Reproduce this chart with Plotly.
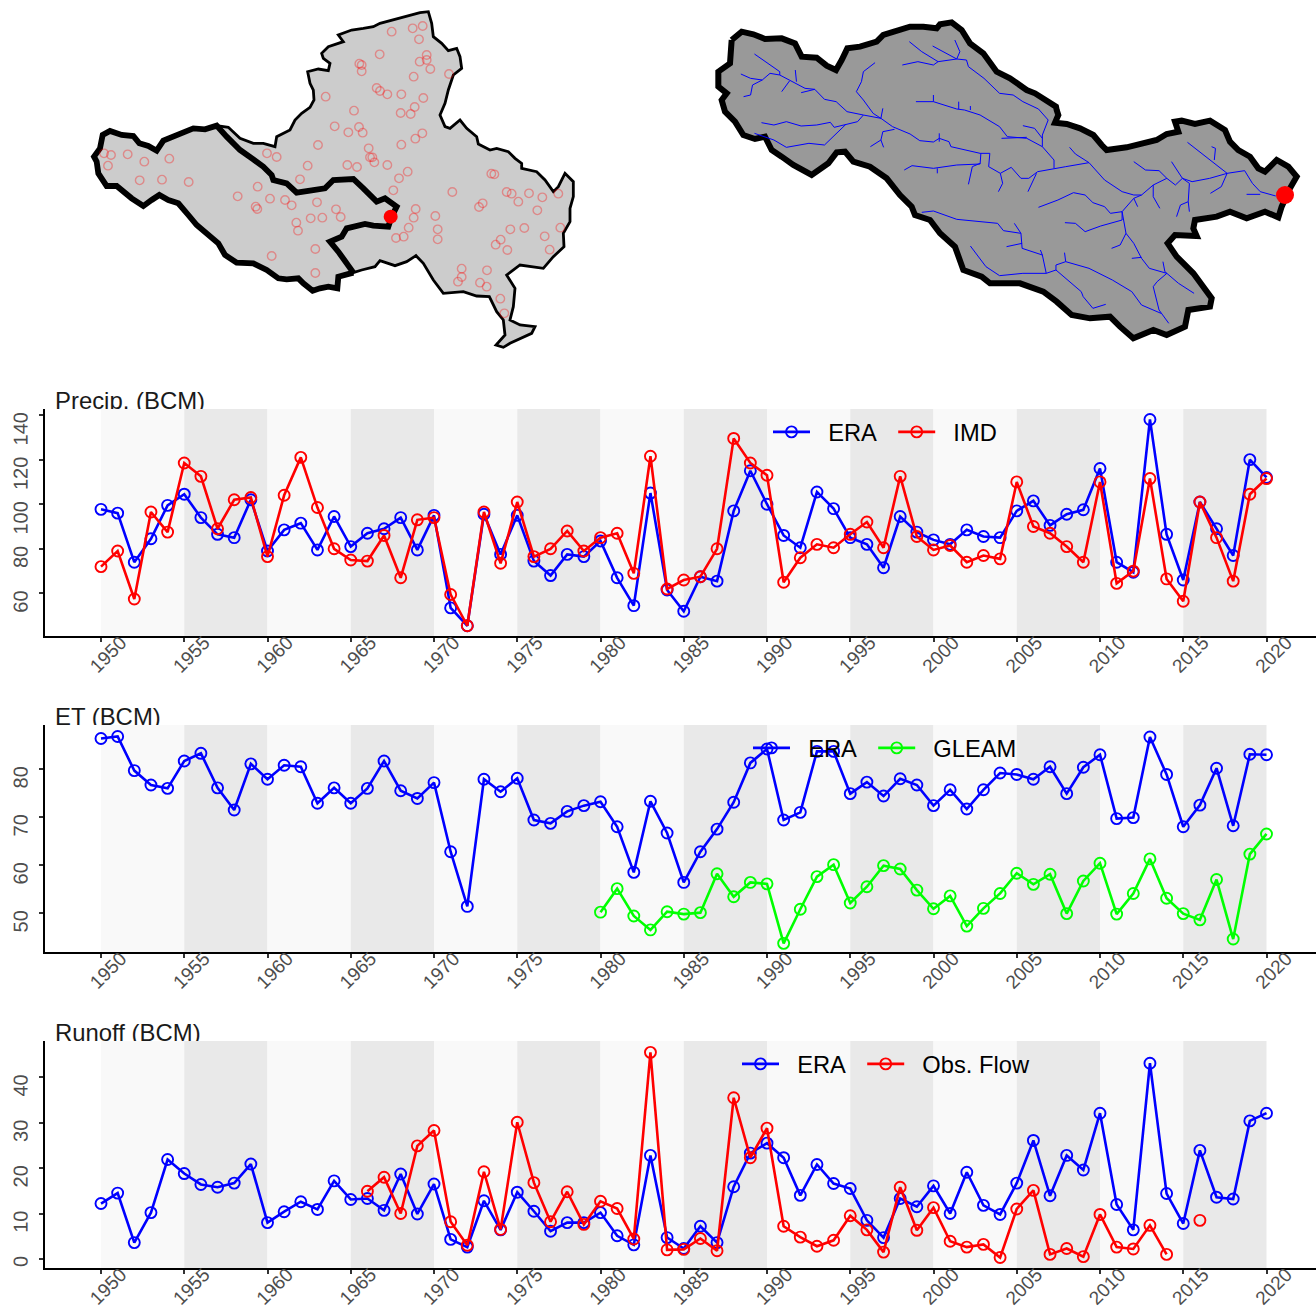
import plotly.graph_objects as go

W, H = 1316, 1309
years = list(range(1950, 2021))
n = None

precip_era = [97.7,96,74,84.5,99.5,104.5,94,86.5,85,102,79,88.5,91.5,79.5,94.5,81,87,89,94,79.5,95,53.5,45.5,95.5,77.5,95,74.5,68,77.5,76.5,83.5,67,54.5,105,61.5,52,67.5,65.5,97,115,100,86,80.5,105.5,98,85,82,71.5,94.5,87.5,84,82,88.5,85.5,85,97,101.5,90.5,95.5,97.5,116,74,69.5,138,86.5,66,101,89,77,120,112]
precip_imd = [72,79,57.5,96.5,87.5,118.5,112.5,89,102,103,76.5,104,121,98.5,80,75,74.5,86,67,93,94,59.5,45.5,96.5,73.5,101,76.5,80,88,79,85,87,69,121.5,62,66,67.5,80,129.5,118.5,113,65,76,82,80.5,86.5,92,80.5,112.5,85.5,79.5,81.5,74,77,75.5,110,90,87,81,74,110,64.5,70,111.5,66.5,56.5,101,85,65.5,104.5,111.5]
et_era = [86.4,86.8,79.7,76.7,76,81.7,83.3,76.1,71.5,81.1,77.9,80.8,80.5,72.9,76.1,72.9,76,81.7,75.5,73.9,77.2,62.8,51.4,77.9,75.3,78.1,69.4,68.7,71.2,72.4,73.2,68,58.5,73.3,66.7,56.4,62.8,67.5,73.1,81.3,84.2,69.4,71,83.7,83.7,74.9,77.3,74.4,78,76.7,72.4,75.7,71.7,75.7,79.2,78.9,77.9,80.5,74.9,80.4,83,69.7,69.9,86.7,78.9,68,72.5,80.2,68.2,83.1,83]
et_gleam = [n]*30 + [50.2,55.1,49.4,46.5,50.3,49.8,50.1,58.2,53.4,56.4,56.1,43.7,50.8,57.6,60.1,52.1,55.5,59.9,59.2,54.8,50.9,53.6,47.3,51,54.1,58.3,56,58.1,49.9,56.7,60.4,49.8,54.1,61.3,53.1,49.9,48.6,57,44.6,62.3,66.5]
runoff_era = [12.2,14.5,3.6,10.2,21.9,18.8,16.4,15.8,16.7,20.9,8,10.4,12.6,10.9,17.2,13.1,13.3,10.7,18.7,9.9,16.5,4.3,2.6,12.8,6.4,14.7,10.5,6.1,8,8,10.2,5.1,3.1,22.8,4.7,2.3,7.2,3.6,15.9,23.3,25.5,22.3,14,20.8,16.6,15.5,8.5,4.7,13.3,11.5,16.1,10,19.1,11.8,9.8,16.7,26.1,13.9,22.8,19.6,32.1,12,6.4,43.1,14.4,7.8,23.9,13.6,13.2,30.4,32.1]
runoff_obs = [n]*16 + [14.9,18,10,24.9,28.3,8.2,3,19.2,6.5,30.1,16.8,8.2,14.8,7.6,12.7,11.1,4.4,45.5,2,2.1,4.5,1.8,35.5,22.3,28.8,7.2,4.8,2.8,4.1,9.5,6.4,1.5,15.8,6.3,11.3,3.9,2.6,3.2,0.3,11,15.1,1,2.3,0.5,9.8,2.6,2.2,7.4,1,n,8.5,n,n,n,n]

band_starts = list(range(1950, 2020, 5))
band_colors = ["#f9f9f9", "#e9e9e9"]
panel_titles = ["Precip. (BCM)", "ET (BCM)", "Runoff (BCM)"]

basin_thin = [(410,377),(445,382),(480,415),(520,430),(550,430),(585,440),(590,410),(630,390),(645,360),(665,340),(690,322),(702,300),(700,270),(690,250),(683,215),(715,207),(745,212),(750,190),(730,175),(725,160),(745,140),(775,130),(790,125),(775,105),(815,90),(850,85),(880,80),(900,70),(940,60),(980,50),(1020,38),(1045,35),(1055,70),(1060,110),(1085,130),(1105,152),(1130,145),(1140,170),(1145,205),(1120,225),(1105,270),(1095,310),(1080,345),(1095,380),(1110,385),(1140,360),(1160,385),(1190,410),(1195,432),(1230,450),(1250,445),(1285,455),(1305,475),(1325,490),(1325,505),(1370,515),(1395,540),(1420,575),(1435,560),(1455,520),(1480,545),(1480,590),(1470,625),(1470,665),(1450,700),(1452,740),(1420,770),(1390,805),(1350,800),(1320,795),(1280,825),(1305,865),(1300,920),(1290,960),(1320,975),(1365,980),(1355,1000),(1290,1030),(1270,1042),(1248,1035),(1275,1005),(1270,960),(1250,935),(1228,890),(1190,888),(1150,875),(1090,880),(1060,840),(1030,790),(1008,767),(980,785),(945,797),(900,782),(885,800),(845,810),(820,818)]
basin_thick_outer = [(820,818),(775,830),(772,865),(745,860),(720,865),(698,872),(670,850),(655,835),(620,838),(595,835),(560,810),(520,790),(470,788),(435,765),(415,730),(380,700),(350,675),(325,645),(295,610),(265,600),(238,585),(215,600),(190,618),(155,595),(130,575),(110,558),(80,558),(55,520),(50,485),(42,470),(60,445),(68,405),(90,393),(125,405),(160,408),(178,430),(205,438),(230,452),(250,422),(295,405),(340,385),(375,388),(410,377)]
basin_thick_inner = [(410,377),(440,410),(480,450),(520,478),(550,500),(575,525),(580,540),(620,550),(650,578),(690,572),(735,565),(760,540),(820,537),(850,565),(890,605),(915,595),(950,620),(935,650),(925,680),(880,677),(855,672),(800,685),(785,710),(750,725),(775,755),(820,818)]
outlet_left = (932, 650)
stations = [(935,95),(998,85),(1028,78),(1017,118),(899,163),(1040,165),(1040,180),(1019,185),(838,191),(845,195),(845,214),(1051,207),(1107,222),(1001,230),(890,264),(900,273),(922,283),(964,283),(737,290),(1030,294),(1004,321),(822,332),(962,339),(992,342),(764,379),(837,381),(805,397),(848,398),(1027,400),(1006,416),(964,434),(714,435),(866,445),(561,460),(590,471),(870,472),(877,472),(883,487),(683,497),(802,495),(831,501),(922,495),(72,460),(93,465),(143,463),(193,485),(268,476),(84,497),(179,541),(246,539),(326,546),(660,538),(533,560),(983,515),(957,535),(940,571),(1117,576),(1234,521),(1243,523),(1280,576),(1295,581),(1347,580),(1387,592),(1435,581),(1315,605),(473,589),(570,596),(615,600),(635,616),(711,607),(527,620),(532,627),(768,628),(782,651),(727,653),(692,655),(649,668),(654,692),(1007,627),(1001,653),(1066,648),(1197,621),(1208,610),(1372,631),(986,683),(1073,688),(1291,688),(1333,684),(1441,683),(948,714),(971,710),(1073,718),(1394,709),(1262,719),(1247,734),(1282,750),(1409,749),(706,747),(575,768),(706,819),(1145,806),(1221,811),(1145,831),(1134,845),(1200,848),(1220,860),(1261,896),(1273,940)]

river_basin = [(95,90),(125,65),(160,73),(195,87),(245,85),(285,100),(305,140),(350,143),(380,167),(408,180),(425,150),(442,115),(480,110),(530,95),(550,75),(590,63),(630,50),(670,50),(710,55),(720,43),(755,37),(785,60),(810,100),(850,130),(890,185),(930,205),(980,240),(1005,250),(1040,270),(1068,290),(1070,300),(1075,315),(1065,338),(1100,342),(1140,355),(1180,375),(1205,405),(1220,420),(1280,412),(1330,400),(1370,390),(1400,372),(1435,365),(1425,335),(1445,332),(1485,342),(1530,332),(1575,360),(1590,395),(1615,420),(1650,440),(1675,475),(1695,485),(1730,450),(1765,470),(1790,500),(1770,535),(1745,590),(1735,622),(1695,605),(1640,625),(1590,605),(1550,620),(1485,630),(1480,655),(1490,678),(1425,675),(1403,700),(1430,740),(1480,790),(1535,865),(1530,890),(1465,900),(1455,950),(1400,975),(1360,960),(1300,985),(1260,950),(1230,920),(1170,925),(1115,915),(1070,875),(1030,845),(960,820),(870,820),(845,800),(790,780),(765,710),(720,670),(690,630),(645,615),(635,590),(600,555),(560,505),(510,470),(460,455),(435,425),(410,427),(385,460),(335,495),(280,465),(245,440),(215,420),(195,380),(165,387),(130,375),(105,335),(75,305),(65,270),(80,250),(55,230),(55,185),(90,160),(95,90)]
rivers = [
 [(140,132),(205,185),(205,195),(235,213),(270,235),(295,238),(320,268),(350,275),(378,305),(420,315),(465,325),(495,350),(525,365),(540,372),(565,392),(600,396),(615,385),(640,395),(645,410),(680,420),(720,430),(745,430),(742,470),(772,490),(800,472),(825,505),(845,505),(868,485),(910,475),(940,470),(1000,458),(1040,510),(1085,545),(1115,555),(1135,555),(1165,525),(1200,505),(1222,525),(1240,505),(1265,515),(1310,505),(1355,490),(1400,482),(1420,520),(1440,545),(1480,558)],
 [(105,192),(130,205),(160,210),(180,190),(205,195)],
 [(160,210),(135,225),(130,255),(112,260)],
 [(245,180),(248,215)],
 [(230,213),(210,245)],
 [(260,248),(295,238)],
 [(450,158),(420,185),(415,215),(402,245),(420,270),(445,310),(465,325),(470,295)],
 [(158,338),(190,345),(222,335),(260,348),(300,345),(335,337),(345,352),(375,343),(405,335),(420,315)],
 [(140,370),(190,390),(222,412),(280,400),(320,405),(375,343)],
 [(500,358),(470,365),(465,390),(438,410)],
 [(465,390),(472,412)],
 [(538,95),(570,125),(612,155),(600,165),(560,155),(520,165)],
 [(612,155),(660,147),(685,150),(690,170),(730,205),(770,250),(805,255),(830,275),(870,297),(895,330),(880,375),(880,410),(910,450),(910,475)],
 [(598,108),(660,147),(668,125),(655,90)],
 [(555,275),(600,275),(660,297),(680,300),(720,315),(770,350),(790,380),(840,385),(880,410)],
 [(600,275),(600,255)],
 [(665,297),(665,275)],
 [(695,300),(695,288)],
 [(775,385),(840,382)],
 [(830,347),(860,355),(880,385)],
 [(525,480),(545,467),(600,475),(660,465),(720,462),(722,430)],
 [(720,460),(700,470),(690,523)],
 [(610,475),(610,490)],
 [(772,490),(778,520),(767,545)],
 [(865,490),(843,545)],
 [(615,370),(615,395)],
 [(950,412),(965,432),(1000,458)],
 [(870,592),(920,570),(960,548),(990,555),(1010,578),(1040,590),(1055,610),(1085,605),(1115,565),(1135,555)],
 [(1115,565),(1125,590)],
 [(938,638),(965,640),(990,665),(1030,648),(1085,630),(1085,605)],
 [(1085,605),(1095,670),(1080,705),(1058,715)],
 [(1095,670),(1115,700),(1135,745),(1155,775),(1200,790),(1230,820),(1270,850)],
 [(1135,742),(1110,745)],
 [(1190,755),(1195,785),(1200,790),(1175,815),(1165,830),(1180,900),(1205,940)],
 [(570,607),(600,603),(660,628),(720,635),(765,640),(780,662),(825,670),(808,640)],
 [(825,670),(828,715),(880,735),(890,790),(830,790),(770,797),(735,770),(695,708)],
 [(828,700),(788,710)],
 [(875,720),(880,735)],
 [(890,790),(915,780),(915,765),(940,755),(1000,775),(1060,810),(1110,845),(1135,885),(1185,910)],
 [(940,755),(937,728)],
 [(915,780),(945,810),(980,845),(985,860),(1010,895),(1043,883)],
 [(1115,455),(1145,480),(1180,482),(1200,505)],
 [(1165,525),(1165,560),(1182,595)],
 [(1212,455),(1240,505),(1258,520),(1255,575),(1235,585),(1225,620)],
 [(1255,575),(1258,605)],
 [(1253,397),(1300,440),(1355,490),(1340,530),(1312,550)],
 [(1315,410),(1325,415),(1322,450)],
 [(1405,553),(1440,553)],
]
river_x_scale = 1830 / 1568
outlet_right = (1755, 555)

FONT = "Liberation Sans"
px = lambda v: v / W
py = lambda v: 1 - v / H
xs = lambda pts: [p[0] for p in pts]
ys = lambda pts: [p[1] for p in pts]

fig = go.Figure()

panels = [
    dict(top=409, bottom=636, rng=[40.9, 142.7], dtick=20, tick0=60, legend="legend"),
    dict(top=725, bottom=952, rng=[41.9, 89.2], dtick=10, tick0=50, legend="legend2"),
    dict(top=1041, bottom=1268, rng=[-2, 48], dtick=10, tick0=0, legend="legend3"),
]
series = [
    [("ERA", precip_era, "#0000ff"), ("IMD", precip_imd, "#ff0000")],
    [("ERA", et_era, "#0000ff"), ("GLEAM", et_gleam, "#00ff00")],
    [("ERA", runoff_era, "#0000ff"), ("Obs. Flow", runoff_obs, "#ff0000")],
]
legend_left = [768, 748, 737]
legend_y = [432, 748, 1064]
layout_axes = {}
shapes = []
L, R = 44.5, 1316
x_rng = [1950 - (101 - L) / 16.65, 2020 + (R - 1266.5) / 16.65]
xtickfont = dict(family=FONT, size=19, color="#4d4d4d")
ytickfont = dict(family=FONT, size=20, color="#4d4d4d")

for i, p in enumerate(panels):
    k = i + 1
    sx = "x" if k == 1 else f"x{k}"
    sy = "y" if k == 1 else f"y{k}"
    for name, vals, col in series[i]:
        fig.add_trace(go.Scatter(
            x=years, y=vals, name="\u00a0\u00a0" + name + "\u00a0\u2009", mode="lines+markers", xaxis=sx, yaxis=sy,
            line=dict(color=col, width=2.6),
            marker=dict(symbol="circle-open", size=11, color=col, line=dict(width=1.9, color=col)),
            legend=p["legend"], hoverinfo="skip", cliponaxis=False,
        ))
    layout_axes["xaxis" + ("" if k == 1 else str(k))] = dict(
        domain=[px(L), px(R)], range=x_rng, anchor=sy, tick0=1950, dtick=5, tickmode="linear",
        showgrid=False, zeroline=False, showline=True, linecolor="#000", linewidth=2,
        ticks="outside", ticklen=4, tickwidth=1.5, tickcolor="#333", tickangle=-45,
        tickfont=xtickfont, ticklabelshift=20, ticklabelstandoff=-18,
    )
    layout_axes["yaxis" + ("" if k == 1 else str(k))] = dict(
        domain=[py(p["bottom"]), py(p["top"])], range=p["rng"], anchor=sx,
        tick0=p["tick0"], dtick=p["dtick"], tickmode="linear",
        showgrid=False, zeroline=False, showline=True, linecolor="#000", linewidth=2,
        ticks="outside", ticklen=4, tickwidth=1.5, tickcolor="#333", tickangle=-89.9,
        tickfont=ytickfont, ticklabelstandoff=17,
    )
    for j, b in enumerate(band_starts):
        shapes.append(dict(type="rect", xref=sx, yref=f"{sy} domain", x0=b, x1=b + 5, y0=0, y1=1,
                           fillcolor=band_colors[j % 2], line_width=0, layer="below"))
    # title sub-plot: its clip reproduces the cut-off title
    tk = 4 + i
    fig.add_trace(go.Scatter(
        x=[0], y=[6], text=[panel_titles[i]], mode="text", textposition="middle right",
        textfont=dict(family=FONT, size=23.9, color="#1a1a1a"), xaxis=f"x{tk}", yaxis=f"y{tk}",
        showlegend=False, hoverinfo="skip", cliponaxis=True,
    ))
    layout_axes[f"xaxis{tk}"] = dict(domain=[px(50), px(400)], range=[-5, 345], visible=False, anchor=f"y{tk}")
    layout_axes[f"yaxis{tk}"] = dict(domain=[py(p["top"]), py(p["top"] - 30)], range=[0, 30], visible=False, anchor=f"x{tk}")
    layout_axes[("legend" + ("" if k == 1 else str(k)))] = dict(
        orientation="h", x=px(legend_left[i]), xanchor="left", y=py(legend_y[i]), yanchor="middle",
        bgcolor="rgba(0,0,0,0)", borderwidth=0, itemwidth=37,
        font=dict(family=FONT, size=23.7, color="#000"), traceorder="normal",
    )

# left map
fig.add_trace(go.Scatter(x=xs(basin_thin + basin_thick_outer), y=ys(basin_thin + basin_thick_outer), mode="lines",
    fill="toself", fillcolor="#cccccc", line=dict(color="#000", width=2.8), xaxis="x7", yaxis="y7",
    showlegend=False, hoverinfo="skip"))
thick = basin_thick_outer + basin_thick_inner
fig.add_trace(go.Scatter(x=xs(thick), y=ys(thick), mode="lines", line=dict(color="#000", width=5.8),
    xaxis="x7", yaxis="y7", showlegend=False, hoverinfo="skip"))
fig.add_trace(go.Scatter(x=xs(stations), y=ys(stations), mode="markers",
    marker=dict(symbol="circle-open", size=8.5, color="rgba(255,0,0,0.33)", line=dict(width=1.4, color="rgba(255,0,0,0.33)")),
    xaxis="x7", yaxis="y7", showlegend=False, hoverinfo="skip"))
fig.add_trace(go.Scatter(x=[outlet_left[0]], y=[outlet_left[1]], mode="markers",
    marker=dict(size=14, color="#ff0000"), xaxis="x7", yaxis="y7", showlegend=False, hoverinfo="skip"))
layout_axes["xaxis7"] = dict(domain=[px(80), px(590)], range=[0, 1530], visible=False, anchor="y7")
layout_axes["yaxis7"] = dict(domain=[py(360), py(0)], range=[1080, 0], visible=False, anchor="x7")

# right map
fig.add_trace(go.Scatter(x=xs(river_basin), y=ys(river_basin), mode="lines", fill="toself", fillcolor="#999999",
    line=dict(color="#000", width=6), xaxis="x8", yaxis="y8", showlegend=False, hoverinfo="skip"))
rx, ry = [], []
for seg in rivers:
    rx += [v * river_x_scale for v in xs(seg)] + [None]
    ry += ys(seg) + [None]
fig.add_trace(go.Scatter(x=rx, y=ry, mode="lines", line=dict(color="#0000ff", width=1), xaxis="x8", yaxis="y8",
    showlegend=False, hoverinfo="skip"))
fig.add_trace(go.Scatter(x=[outlet_right[0]], y=[outlet_right[1]], mode="markers",
    marker=dict(size=18, color="#ff0000"), xaxis="x8", yaxis="y8", showlegend=False, hoverinfo="skip"))
layout_axes["xaxis8"] = dict(domain=[px(700), px(1310)], range=[0, 1830], visible=False, anchor="y8")
layout_axes["yaxis8"] = dict(domain=[py(350), py(10)], range=[1020, 0], visible=False, anchor="x8")

fig.update_layout(width=W, height=H, margin=dict(l=0, r=0, t=0, b=0, autoexpand=False), paper_bgcolor="white", plot_bgcolor="rgba(0,0,0,0)",
                  shapes=shapes, showlegend=True, font=dict(family=FONT), **layout_axes)
fig.write_html("out.html", config={"displayModeBar": False},
               post_script="document.body.style.margin='0';document.body.style.overflow='hidden';")
